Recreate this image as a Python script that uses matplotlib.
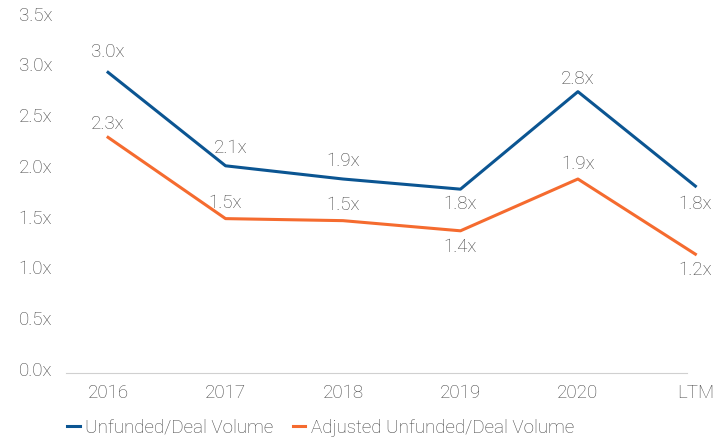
import matplotlib
matplotlib.use('Agg')
import matplotlib.pyplot as plt
import matplotlib.transforms as mtransforms

# data
categories = ['2016', '2017', '2018', '2019', '2020', 'LTM']
unfunded = [2.96, 2.04, 1.91, 1.81, 2.77, 1.84]
adjusted = [2.32, 1.52, 1.50, 1.40, 1.91, 1.17]
unfunded_labels = ['3.0x', '2.1x', '1.9x', '1.8x', '2.8x', '1.8x']
adjusted_labels = ['2.3x', '1.5x', '1.5x', '1.4x', '1.9x', '1.2x']
yticks = [0.0, 0.5, 1.0, 1.5, 2.0, 2.5, 3.0, 3.5]

blue = '#0b5592'
orange = '#f56b2f'
grey = '#454545'
fs = 13.5

plt.rcParams['font.family'] = ['Roboto', 'DejaVu Sans']

fig = plt.figure(figsize=(7.13, 4.38), dpi=100)
ax = fig.add_axes([0.0926, 0.1484, 0.9074, 0.8116])

x = list(range(len(categories)))
ax.plot(x, unfunded, color=blue, lw=2.2, label='Unfunded/Deal Volume', clip_on=False)
ax.plot(x, adjusted, color=orange, lw=2.2, label='Adjusted Unfunded/Deal Volume', clip_on=False)

# label offsets in pixels (positive = above the point)
unf_off = [(0, 20), (5, 18), (0, 18), (0, -15), (0, 13), (0, -18)]
adj_off = [(0, 13), (0, 16), (0, 16), (0, -16), (0, 15), (0, -16)]
for i in x:
    ax.annotate(unfunded_labels[i], (i, unfunded[i]), xytext=unf_off[i],
                textcoords='offset pixels', ha='center', va='center',
                fontsize=fs, color=grey, fontweight='light', annotation_clip=False)
    ax.annotate(adjusted_labels[i], (i, adjusted[i]), xytext=adj_off[i],
                textcoords='offset pixels', ha='center', va='center',
                fontsize=fs, color=grey, fontweight='light', annotation_clip=False)

ax.set_xlim(-0.358, 5.15)
ax.set_ylim(0, 3.5)
ax.set_xticks(x)
ax.set_xticklabels(categories)
ax.set_yticks(yticks)
ax.set_yticklabels([f'{v:.1f}x' for v in yticks])
ax.tick_params(length=0, labelsize=fs, labelcolor=grey, pad=10)
ax.tick_params(axis='x', pad=8)
shift = mtransforms.ScaledTranslation(0, 4 / 100, fig.dpi_scale_trans)
for lab in ax.get_yticklabels():
    lab.set_transform(lab.get_transform() + shift)
for lab in ax.get_xticklabels() + ax.get_yticklabels():
    lab.set_fontweight('light')

for s in ['top', 'right', 'left']:
    ax.spines[s].set_visible(False)
ax.spines['bottom'].set_color('#d0d0d0')
ax.spines['bottom'].set_bounds(-0.358, 4.93)
ax.set_facecolor('none')

leg = fig.legend(loc='center left', bbox_to_anchor=(0.071, 0.023), ncol=2, frameon=False,
                 handlelength=0.65, handletextpad=0.3, columnspacing=1.05,
                 prop={'size': fs, 'weight': 'light'})
for t in leg.get_texts():
    t.set_color(grey)

fig.savefig('out.png', dpi=100)
